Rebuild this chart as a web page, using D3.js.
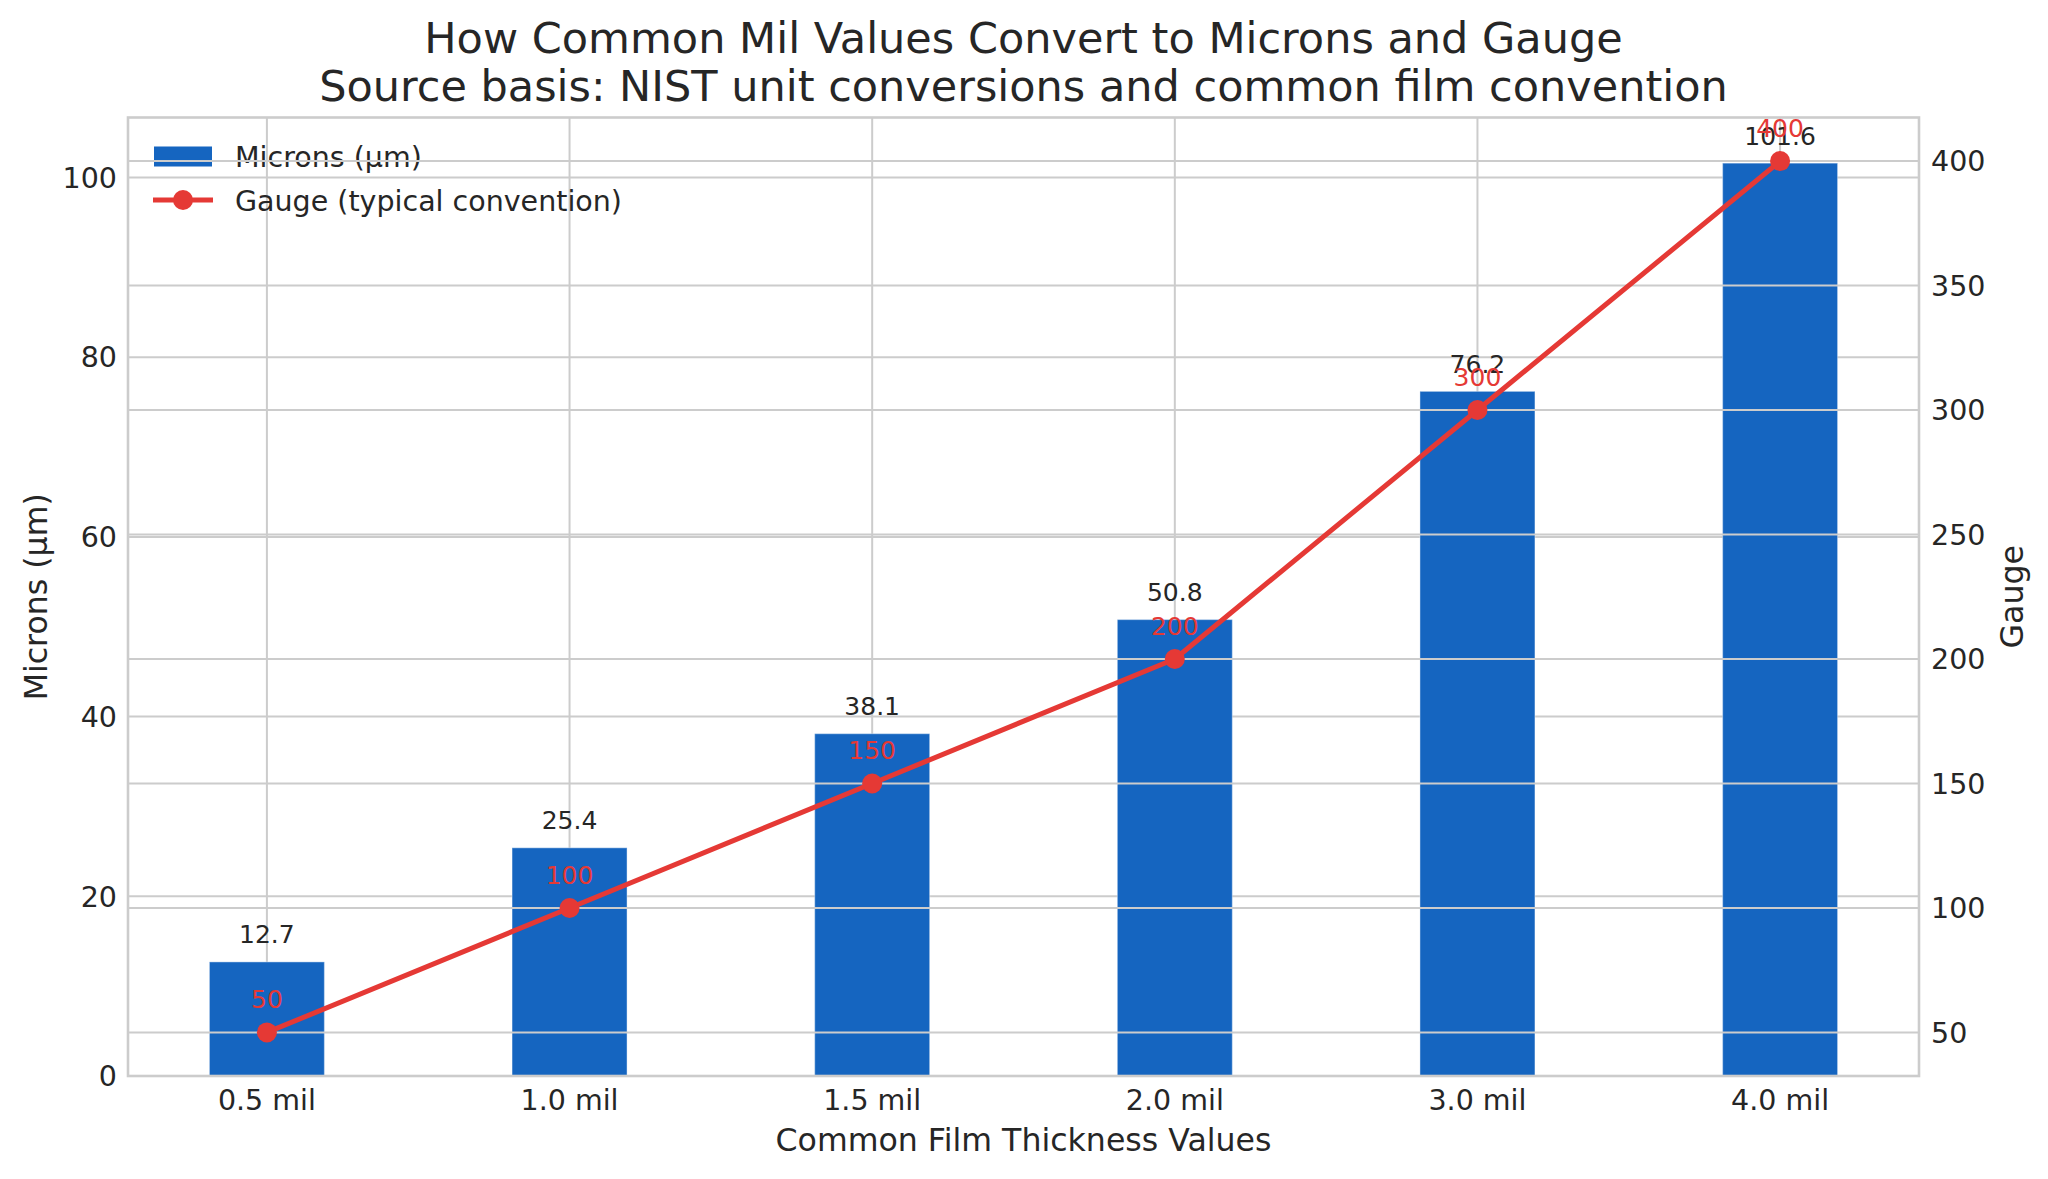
<!DOCTYPE html>
<html>
<head>
<meta charset="utf-8">
<script src="https://cdn.jsdelivr.net/npm/d3@7"></script>
<style>
html,body{margin:0;padding:0;background:#fff;}
svg{display:block;}
text{font-family:"DejaVu Sans",sans-serif;}
</style>
</head>
<body>
<script>
const categories = ["0.5 mil","1.0 mil","1.5 mil","2.0 mil","3.0 mil","4.0 mil"];
const microns = [12.7, 25.4, 38.1, 50.8, 76.2, 101.6];
const gauge = [50, 100, 150, 200, 300, 400];
const micronTicks = [0, 20, 40, 60, 80, 100];
const gaugeTicks = [50, 100, 150, 200, 250, 300, 350, 400];
const titleLines = ["How Common Mil Values Convert to Microns and Gauge",
                    "Source basis: NIST unit conversions and common film convention"];
const legendLabels = ["Microns (µm)", "Gauge (typical convention)"];

const W = 2048, H = 1179;
const M = {left: 128, right: 1919, top: 117.5, bottom: 1076};
const BAR_COLOR = "#1565C0", LINE_COLOR = "#E53935", TEXT = "#262626", GRID = "#cccccc";
const barW = 0.38;

const svg = d3.select("body").append("svg").attr("width", W).attr("height", H);
svg.append("rect").attr("width", W).attr("height", H).attr("fill", "#fff");

const n = categories.length;
const xPad = ((n - 1) + barW) * 0.05;
const x = d3.scaleLinear().domain([-barW/2 - xPad, (n - 1) + barW/2 + xPad]).range([M.left, M.right]);
const yL = d3.scaleLinear().domain([0, d3.max(microns) * 1.05]).range([M.bottom, M.top]);
const gMin = d3.min(gauge), gMax = d3.max(gauge), gR = gMax - gMin;
const yR = d3.scaleLinear().domain([gMin - 0.05 * gR, gMax + 0.05 * gR]).range([M.bottom, M.top]);

// ---- ax1 ----
const ax1 = svg.append("g");
ax1.selectAll("line.vg").data(categories).enter().append("line")
  .attr("x1", (d, i) => x(i)).attr("x2", (d, i) => x(i))
  .attr("y1", M.top).attr("y2", M.bottom)
  .attr("stroke", GRID).attr("stroke-width", 2);
ax1.selectAll("line.hg").data(micronTicks).enter().append("line")
  .attr("x1", M.left).attr("x2", M.right)
  .attr("y1", d => yL(d)).attr("y2", d => yL(d))
  .attr("stroke", GRID).attr("stroke-width", 2);
ax1.selectAll("rect.bar").data(microns).enter().append("rect")
  .attr("x", (d, i) => x(i - barW/2))
  .attr("width", (d, i) => x(i + barW/2) - x(i - barW/2))
  .attr("y", d => yL(d))
  .attr("height", d => yL(0) - yL(d))
  .attr("fill", BAR_COLOR)
  .attr("stroke", "rgba(255,255,255,0.35)").attr("stroke-width", 1.2);
ax1.selectAll("text.bl").data(microns).enter().append("text")
  .attr("x", (d, i) => x(i)).attr("y", d => yL(d) - 18.5)
  .attr("text-anchor", "middle").attr("font-size", 25).attr("fill", TEXT)
  .text(d => d.toFixed(1));
ax1.selectAll("text.lt").data(micronTicks).enter().append("text")
  .attr("x", M.left - 11).attr("y", d => yL(d)).attr("dy", "0.36em")
  .attr("text-anchor", "end").attr("font-size", 28.5).attr("fill", TEXT)
  .text(d => d);
ax1.selectAll("text.xt").data(categories).enter().append("text")
  .attr("x", (d, i) => x(i)).attr("y", M.bottom + 34)
  .attr("text-anchor", "middle").attr("font-size", 28.5).attr("fill", TEXT)
  .text(d => d);
ax1.append("text").attr("x", (M.left + M.right)/2).attr("y", 1151)
  .attr("text-anchor", "middle").attr("font-size", 31.6).attr("fill", TEXT)
  .text("Common Film Thickness Values");
ax1.append("text").attr("transform", `translate(36,${(M.top + M.bottom)/2}) rotate(-90)`)
  .attr("dy", "0.35em").attr("text-anchor", "middle").attr("font-size", 31.6).attr("fill", TEXT)
  .text("Microns (µm)");

// legend (in ax1)
const lg = ax1.append("g");
lg.append("rect").attr("x", 154).attr("y", 146.5).attr("width", 58).attr("height", 20).attr("fill", BAR_COLOR);
lg.append("line").attr("x1", 153).attr("x2", 213).attr("y1", 200).attr("y2", 200)
  .attr("stroke", LINE_COLOR).attr("stroke-width", 5);
lg.append("circle").attr("cx", 183).attr("cy", 200).attr("r", 10).attr("fill", LINE_COLOR);
lg.selectAll("text").data(legendLabels).enter().append("text")
  .attr("x", 235).attr("y", (d, i) => 167 + i * 44)
  .attr("font-size", 28.5).attr("fill", TEXT).text(d => d);

// ---- ax2 ----
const ax2 = svg.append("g");
ax2.selectAll("line.rg").data(gaugeTicks).enter().append("line")
  .attr("x1", M.left).attr("x2", M.right)
  .attr("y1", d => yR(d)).attr("y2", d => yR(d))
  .attr("stroke", GRID).attr("stroke-width", 2);
const line = d3.line().x((d, i) => x(i)).y(d => yR(d));
ax2.append("path").datum(gauge).attr("d", line)
  .attr("fill", "none").attr("stroke", LINE_COLOR).attr("stroke-width", 5)
  .attr("stroke-linejoin", "round").attr("stroke-linecap", "round");
ax2.selectAll("circle.pt").data(gauge).enter().append("circle")
  .attr("cx", (d, i) => x(i)).attr("cy", d => yR(d)).attr("r", 10).attr("fill", LINE_COLOR);
ax2.selectAll("text.gl").data(gauge).enter().append("text")
  .attr("x", (d, i) => x(i)).attr("y", d => yR(d) - 24)
  .attr("text-anchor", "middle").attr("font-size", 25).attr("fill", LINE_COLOR)
  .text(d => d);
ax2.selectAll("text.rt").data(gaugeTicks).enter().append("text")
  .attr("x", M.right + 12).attr("y", d => yR(d)).attr("dy", "0.36em")
  .attr("text-anchor", "start").attr("font-size", 28.5).attr("fill", TEXT)
  .text(d => d);
ax2.append("text").attr("transform", `translate(2012,${(M.top + M.bottom)/2}) rotate(-90)`)
  .attr("dy", "0.35em").attr("text-anchor", "middle").attr("font-size", 31.6).attr("fill", TEXT)
  .text("Gauge");
ax2.append("rect").attr("x", M.left).attr("y", M.top)
  .attr("width", M.right - M.left).attr("height", M.bottom - M.top)
  .attr("fill", "none").attr("stroke", GRID).attr("stroke-width", 2.6);

// title
svg.append("g").selectAll("text").data(titleLines).enter().append("text")
  .attr("x", (M.left + M.right)/2).attr("y", (d, i) => 53 + i * 48)
  .attr("text-anchor", "middle").attr("font-size", 43).attr("fill", TEXT)
  .text(d => d);
</script>
</body>
</html>
